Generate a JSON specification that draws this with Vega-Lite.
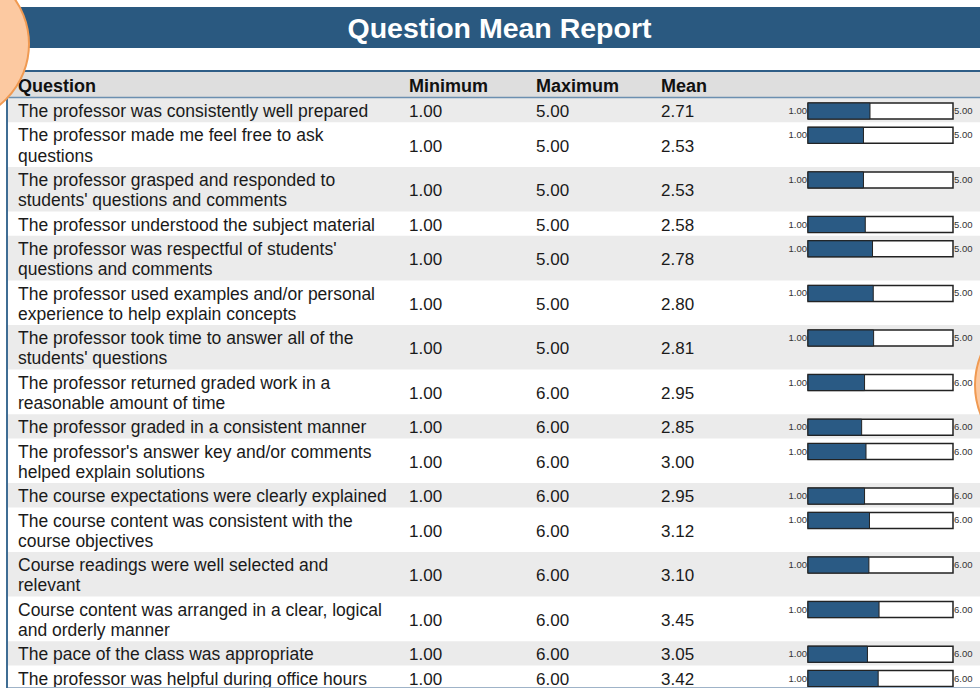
{
  "$schema": "https://vega.github.io/schema/vega-lite/v6.json",
  "width": 980,
  "height": 688,
  "autosize": {"type": "none"},
  "padding": 0,
  "background": "white",
  "config": {"view": {"stroke": null}, "text": {"font": "Liberation Sans"}},
  "resolve": {"scale": {"x": "independent"}},
  "layer": [
    {
      "data": {"values": [{}]},
      "mark": {"type": "rect", "fill": "#2a5980"},
      "encoding": {
        "x": {"datum": 0, "type": "quantitative", "scale": {"domain": [0, 980], "nice": false, "zero": false}, "axis": null},
        "x2": {"datum": 980},
        "y": {"datum": 7, "type": "quantitative", "scale": {"domain": [0, 688], "reverse": true, "nice": false, "zero": false}, "axis": null},
        "y2": {"datum": 48}
      }
    },
    {
      "data": {"values": [{}]},
      "mark": {"type": "text", "align": "center", "baseline": "middle", "dy": 1, "fontSize": 28.5, "fontWeight": "bold", "fill": "white"},
      "encoding": {
        "x": {"datum": 499.5, "type": "quantitative", "scale": {"domain": [0, 980], "nice": false, "zero": false}, "axis": null},
        "y": {"datum": 28, "type": "quantitative", "scale": {"domain": [0, 688], "reverse": true, "nice": false, "zero": false}, "axis": null},
        "text": {"value": "Question Mean Report"}
      }
    },
    {
      "data": {"values": [{}]},
      "mark": {"type": "rect", "fill": "#dedede"},
      "encoding": {
        "x": {"datum": 8, "type": "quantitative", "scale": {"domain": [0, 980], "nice": false, "zero": false}, "axis": null},
        "x2": {"datum": 980},
        "y": {"datum": 71, "type": "quantitative", "scale": {"domain": [0, 688], "reverse": true, "nice": false, "zero": false}, "axis": null},
        "y2": {"datum": 97.5}
      }
    },
    {
      "data": {
        "values": [
          {"question": "The professor was consistently well prepared", "min": 1, "max": 5, "mean": 2.71},
          {"question": "The professor made me feel free to ask\nquestions", "min": 1, "max": 5, "mean": 2.53},
          {"question": "The professor grasped and responded to\nstudents' questions and comments", "min": 1, "max": 5, "mean": 2.53},
          {"question": "The professor understood the subject material", "min": 1, "max": 5, "mean": 2.58},
          {"question": "The professor was respectful of students'\nquestions and comments", "min": 1, "max": 5, "mean": 2.78},
          {"question": "The professor used examples and/or personal\nexperience to help explain concepts", "min": 1, "max": 5, "mean": 2.80},
          {"question": "The professor took time to answer all of the\nstudents' questions", "min": 1, "max": 5, "mean": 2.81},
          {"question": "The professor returned graded work in a\nreasonable amount of time", "min": 1, "max": 6, "mean": 2.95},
          {"question": "The professor graded in a consistent manner", "min": 1, "max": 6, "mean": 2.85},
          {"question": "The professor's answer key and/or comments\nhelped explain solutions", "min": 1, "max": 6, "mean": 3.00},
          {"question": "The course expectations were clearly explained", "min": 1, "max": 6, "mean": 2.95},
          {"question": "The course content was consistent with the\ncourse objectives", "min": 1, "max": 6, "mean": 3.12},
          {"question": "Course readings were well selected and\nrelevant", "min": 1, "max": 6, "mean": 3.10},
          {"question": "Course content was arranged in a clear, logical\nand orderly manner", "min": 1, "max": 6, "mean": 3.45},
          {"question": "The pace of the class was appropriate", "min": 1, "max": 6, "mean": 3.05},
          {"question": "The professor was helpful during office hours", "min": 1, "max": 6, "mean": 3.42}
        ]
      },
      "transform": [
        {"calculate": "length(split(datum.question, '\\n'))", "as": "n"},
        {"calculate": "4 + 20.3 * datum.n", "as": "h"},
        {"window": [{"op": "sum", "field": "h", "as": "cum"}, {"op": "row_number", "as": "idx"}]},
        {"calculate": "98 + datum.cum", "as": "y1"},
        {"calculate": "datum.y1 - datum.h", "as": "y0"},
        {"calculate": "(datum.y0 + datum.y1) / 2", "as": "yc"},
        {"calculate": "datum.yc - (datum.n - 1) * 10.15", "as": "ty"},
        {"calculate": "datum.y0 + 5", "as": "bt"},
        {"calculate": "datum.y0 + 21", "as": "bb"},
        {"calculate": "datum.y0 + 13", "as": "bm"}
      ],
      "resolve": {"scale": {"x": "independent"}},
      "layer": [
        {
          "transform": [{"filter": "datum.idx % 2 == 1"}],
          "mark": {"type": "rect", "fill": "#ebebeb"},
          "encoding": {
            "x": {"datum": 8, "type": "quantitative", "scale": {"domain": [0, 980], "nice": false, "zero": false}, "axis": null},
            "x2": {"datum": 980},
            "y": {"field": "y0", "type": "quantitative", "scale": {"domain": [0, 688], "reverse": true, "nice": false, "zero": false}, "axis": null},
            "y2": {"field": "y1"}
          }
        },
        {
          "mark": {"type": "text", "align": "left", "baseline": "middle", "dy": 2, "fontSize": 17.5, "lineBreak": "\n", "lineHeight": 20.3, "fill": "#1a1a1a"},
          "encoding": {
            "x": {"datum": 18, "type": "quantitative", "scale": {"domain": [0, 980], "nice": false, "zero": false}, "axis": null},
            "y": {"field": "ty", "type": "quantitative", "scale": {"domain": [0, 688], "reverse": true, "nice": false, "zero": false}, "axis": null},
            "text": {"field": "question", "type": "nominal"}
          }
        },
        {
          "mark": {"type": "text", "align": "left", "baseline": "middle", "dy": 2, "fontSize": 17, "fill": "#1a1a1a"},
          "encoding": {
            "x": {"datum": 409, "type": "quantitative", "scale": {"domain": [0, 980], "nice": false, "zero": false}, "axis": null},
            "y": {"field": "yc", "type": "quantitative", "scale": {"domain": [0, 688], "reverse": true, "nice": false, "zero": false}, "axis": null},
            "text": {"field": "min", "type": "quantitative", "format": ".2f"}
          }
        },
        {
          "mark": {"type": "text", "align": "left", "baseline": "middle", "dy": 2, "fontSize": 17, "fill": "#1a1a1a"},
          "encoding": {
            "x": {"datum": 536, "type": "quantitative", "scale": {"domain": [0, 980], "nice": false, "zero": false}, "axis": null},
            "y": {"field": "yc", "type": "quantitative", "scale": {"domain": [0, 688], "reverse": true, "nice": false, "zero": false}, "axis": null},
            "text": {"field": "max", "type": "quantitative", "format": ".2f"}
          }
        },
        {
          "mark": {"type": "text", "align": "left", "baseline": "middle", "dy": 2, "fontSize": 17, "fill": "#1a1a1a"},
          "encoding": {
            "x": {"datum": 661, "type": "quantitative", "scale": {"domain": [0, 980], "nice": false, "zero": false}, "axis": null},
            "y": {"field": "yc", "type": "quantitative", "scale": {"domain": [0, 688], "reverse": true, "nice": false, "zero": false}, "axis": null},
            "text": {"field": "mean", "type": "quantitative", "format": ".2f"}
          }
        },
        {
          "transform": [{"filter": "datum.max == 5"}],
          "layer": [
            {
              "mark": {"type": "rect", "fill": "white", "stroke": "#222222", "strokeWidth": 1.5},
              "encoding": {
                "x": {"field": "min", "type": "quantitative", "scale": {"domain": [1, 5], "range": [808, 953], "nice": false, "zero": false}, "axis": null},
                "x2": {"field": "max"},
                "y": {"field": "bt", "type": "quantitative", "scale": {"domain": [0, 688], "reverse": true, "nice": false, "zero": false}, "axis": null},
                "y2": {"field": "bb"}
              }
            },
            {
              "mark": {"type": "rect", "fill": "#2a5a84", "stroke": "#222222", "strokeWidth": 1},
              "encoding": {
                "x": {"field": "min", "type": "quantitative", "scale": {"domain": [1, 5], "range": [808, 953], "nice": false, "zero": false}, "axis": null},
                "x2": {"field": "mean"},
                "y": {"field": "bt", "type": "quantitative", "scale": {"domain": [0, 688], "reverse": true, "nice": false, "zero": false}, "axis": null},
                "y2": {"field": "bb"}
              }
            },
            {
              "mark": {"type": "text", "align": "right", "baseline": "middle", "dx": -1, "fontSize": 9.5, "fill": "#333333"},
              "encoding": {
                "x": {"field": "min", "type": "quantitative", "scale": {"domain": [1, 5], "range": [808, 953], "nice": false, "zero": false}, "axis": null},
                "y": {"field": "bm", "type": "quantitative", "scale": {"domain": [0, 688], "reverse": true, "nice": false, "zero": false}, "axis": null},
                "text": {"field": "min", "type": "quantitative", "format": ".2f"}
              }
            },
            {
              "mark": {"type": "text", "align": "left", "baseline": "middle", "dx": 1, "fontSize": 9.5, "fill": "#333333"},
              "encoding": {
                "x": {"field": "max", "type": "quantitative", "scale": {"domain": [1, 5], "range": [808, 953], "nice": false, "zero": false}, "axis": null},
                "y": {"field": "bm", "type": "quantitative", "scale": {"domain": [0, 688], "reverse": true, "nice": false, "zero": false}, "axis": null},
                "text": {"field": "max", "type": "quantitative", "format": ".2f"}
              }
            }
          ]
        },
        {
          "transform": [{"filter": "datum.max == 6"}],
          "layer": [
            {
              "mark": {"type": "rect", "fill": "white", "stroke": "#222222", "strokeWidth": 1.5},
              "encoding": {
                "x": {"field": "min", "type": "quantitative", "scale": {"domain": [1, 6], "range": [808, 953], "nice": false, "zero": false}, "axis": null},
                "x2": {"field": "max"},
                "y": {"field": "bt", "type": "quantitative", "scale": {"domain": [0, 688], "reverse": true, "nice": false, "zero": false}, "axis": null},
                "y2": {"field": "bb"}
              }
            },
            {
              "mark": {"type": "rect", "fill": "#2a5a84", "stroke": "#222222", "strokeWidth": 1},
              "encoding": {
                "x": {"field": "min", "type": "quantitative", "scale": {"domain": [1, 6], "range": [808, 953], "nice": false, "zero": false}, "axis": null},
                "x2": {"field": "mean"},
                "y": {"field": "bt", "type": "quantitative", "scale": {"domain": [0, 688], "reverse": true, "nice": false, "zero": false}, "axis": null},
                "y2": {"field": "bb"}
              }
            },
            {
              "mark": {"type": "text", "align": "right", "baseline": "middle", "dx": -1, "fontSize": 9.5, "fill": "#333333"},
              "encoding": {
                "x": {"field": "min", "type": "quantitative", "scale": {"domain": [1, 6], "range": [808, 953], "nice": false, "zero": false}, "axis": null},
                "y": {"field": "bm", "type": "quantitative", "scale": {"domain": [0, 688], "reverse": true, "nice": false, "zero": false}, "axis": null},
                "text": {"field": "min", "type": "quantitative", "format": ".2f"}
              }
            },
            {
              "mark": {"type": "text", "align": "left", "baseline": "middle", "dx": 1, "fontSize": 9.5, "fill": "#333333"},
              "encoding": {
                "x": {"field": "max", "type": "quantitative", "scale": {"domain": [1, 6], "range": [808, 953], "nice": false, "zero": false}, "axis": null},
                "y": {"field": "bm", "type": "quantitative", "scale": {"domain": [0, 688], "reverse": true, "nice": false, "zero": false}, "axis": null},
                "text": {"field": "max", "type": "quantitative", "format": ".2f"}
              }
            }
          ]
        }
      ]
    },
    {
      "data": {"values": [{}]},
      "mark": {"type": "text", "align": "left", "baseline": "middle", "dy": 1, "fontSize": 18, "fontWeight": "bold", "fill": "#111111"},
      "encoding": {
        "x": {"datum": 18, "type": "quantitative", "scale": {"domain": [0, 980], "nice": false, "zero": false}, "axis": null},
        "y": {"datum": 86, "type": "quantitative", "scale": {"domain": [0, 688], "reverse": true, "nice": false, "zero": false}, "axis": null},
        "text": {"value": "Question"}
      }
    },
    {
      "data": {"values": [{}]},
      "mark": {"type": "text", "align": "left", "baseline": "middle", "dy": 1, "fontSize": 18, "fontWeight": "bold", "fill": "#111111"},
      "encoding": {
        "x": {"datum": 409, "type": "quantitative", "scale": {"domain": [0, 980], "nice": false, "zero": false}, "axis": null},
        "y": {"datum": 86, "type": "quantitative", "scale": {"domain": [0, 688], "reverse": true, "nice": false, "zero": false}, "axis": null},
        "text": {"value": "Minimum"}
      }
    },
    {
      "data": {"values": [{}]},
      "mark": {"type": "text", "align": "left", "baseline": "middle", "dy": 1, "fontSize": 18, "fontWeight": "bold", "fill": "#111111"},
      "encoding": {
        "x": {"datum": 536, "type": "quantitative", "scale": {"domain": [0, 980], "nice": false, "zero": false}, "axis": null},
        "y": {"datum": 86, "type": "quantitative", "scale": {"domain": [0, 688], "reverse": true, "nice": false, "zero": false}, "axis": null},
        "text": {"value": "Maximum"}
      }
    },
    {
      "data": {"values": [{}]},
      "mark": {"type": "text", "align": "left", "baseline": "middle", "dy": 1, "fontSize": 18, "fontWeight": "bold", "fill": "#111111"},
      "encoding": {
        "x": {"datum": 661, "type": "quantitative", "scale": {"domain": [0, 980], "nice": false, "zero": false}, "axis": null},
        "y": {"datum": 86, "type": "quantitative", "scale": {"domain": [0, 688], "reverse": true, "nice": false, "zero": false}, "axis": null},
        "text": {"value": "Mean"}
      }
    },
    {
      "data": {"values": [{}]},
      "mark": {"type": "rule", "stroke": "#2f5e87", "strokeWidth": 2},
      "encoding": {
        "x": {"datum": 7, "type": "quantitative", "scale": {"domain": [0, 980], "nice": false, "zero": false}, "axis": null},
        "x2": {"datum": 980},
        "y": {"datum": 71, "type": "quantitative", "scale": {"domain": [0, 688], "reverse": true, "nice": false, "zero": false}, "axis": null}
      }
    },
    {
      "data": {"values": [{}]},
      "mark": {"type": "rule", "stroke": "#6b8fb0", "strokeWidth": 1.5},
      "encoding": {
        "x": {"datum": 7, "type": "quantitative", "scale": {"domain": [0, 980], "nice": false, "zero": false}, "axis": null},
        "x2": {"datum": 980},
        "y": {"datum": 97.5, "type": "quantitative", "scale": {"domain": [0, 688], "reverse": true, "nice": false, "zero": false}, "axis": null}
      }
    },
    {
      "data": {"values": [{}]},
      "mark": {"type": "rule", "stroke": "#9fb3c8", "strokeWidth": 1},
      "encoding": {
        "x": {"datum": 7, "type": "quantitative", "scale": {"domain": [0, 980], "nice": false, "zero": false}, "axis": null},
        "x2": {"datum": 980},
        "y": {"datum": 687.5, "type": "quantitative", "scale": {"domain": [0, 688], "reverse": true, "nice": false, "zero": false}, "axis": null}
      }
    },
    {
      "data": {"values": [{}]},
      "mark": {"type": "rule", "stroke": "#3f6d94", "strokeWidth": 2},
      "encoding": {
        "x": {"datum": 7, "type": "quantitative", "scale": {"domain": [0, 980], "nice": false, "zero": false}, "axis": null},
        "y": {"datum": 70, "type": "quantitative", "scale": {"domain": [0, 688], "reverse": true, "nice": false, "zero": false}, "axis": null},
        "y2": {"datum": 688}
      }
    },
    {
      "data": {"values": [{}]},
      "mark": {"type": "point", "shape": "circle", "filled": true, "fill": "#fcc9a1", "stroke": "#f09a52", "strokeWidth": 2, "opacity": 1, "size": 24336},
      "encoding": {
        "x": {"datum": -49, "type": "quantitative", "scale": {"domain": [0, 980], "nice": false, "zero": false}, "axis": null},
        "y": {"datum": 44, "type": "quantitative", "scale": {"domain": [0, 688], "reverse": true, "nice": false, "zero": false}, "axis": null}
      }
    },
    {
      "data": {"values": [{}]},
      "mark": {"type": "point", "shape": "circle", "filled": true, "fill": "#fcc9a1", "stroke": "#f09a52", "strokeWidth": 2, "opacity": 1, "size": 25600},
      "encoding": {
        "x": {"datum": 1055, "type": "quantitative", "scale": {"domain": [0, 980], "nice": false, "zero": false}, "axis": null},
        "y": {"datum": 385, "type": "quantitative", "scale": {"domain": [0, 688], "reverse": true, "nice": false, "zero": false}, "axis": null}
      }
    }
  ]
}
